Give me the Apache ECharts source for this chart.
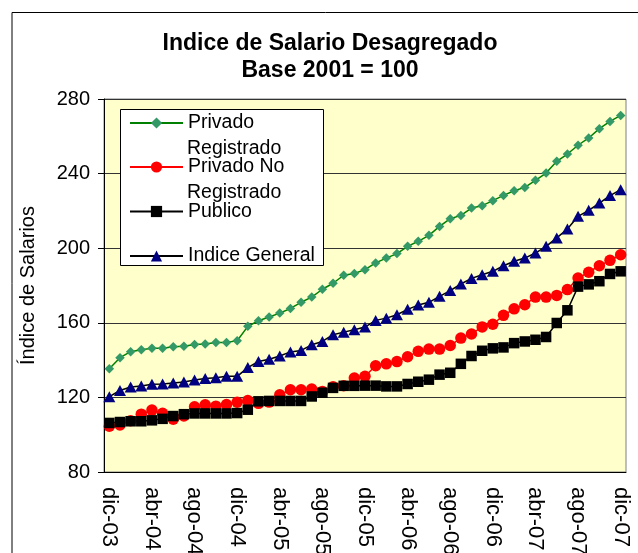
<!DOCTYPE html>
<html lang="es">
<head>
<meta charset="utf-8">
<title>Indice de Salario Desagregado</title>
<script src="https://cdn.jsdelivr.net/npm/echarts@6/dist/echarts.min.js"></script>
<style>
    html, body { margin: 0; padding: 0; background: #fff; }
    #main { width: 638px; height: 553px; }
</style>
</head>
<body>
<div id="main"></div>
<script>
    // meses dic-03 .. dic-07
    var meses = ['dic-03', 'ene-04', 'feb-04', 'mar-04', 'abr-04', 'may-04', 'jun-04', 'jul-04', 'ago-04', 'sep-04', 'oct-04', 'nov-04',
        'dic-04', 'ene-05', 'feb-05', 'mar-05', 'abr-05', 'may-05', 'jun-05', 'jul-05', 'ago-05', 'sep-05', 'oct-05', 'nov-05',
        'dic-05', 'ene-06', 'feb-06', 'mar-06', 'abr-06', 'may-06', 'jun-06', 'jul-06', 'ago-06', 'sep-06', 'oct-06', 'nov-06',
        'dic-06', 'ene-07', 'feb-07', 'mar-07', 'abr-07', 'may-07', 'jun-07', 'jul-07', 'ago-07', 'sep-07', 'oct-07', 'nov-07',
        'dic-07'];

    var privadoReg = [135.4, 141.3, 144.5, 145.6, 146.3, 146.3, 147.2, 147.4, 148.4, 148.6, 149.4, 149.5,
        150.4, 158.1, 161.1, 163.1, 165.2, 167.7, 171.0, 173.8, 178.0, 181.2, 185.5, 186.4,
        188.5, 192.1, 194.7, 197.1, 201.0, 203.7, 206.9, 211.7, 215.8, 217.6, 221.5, 222.8,
        225.5, 228.3, 230.8, 232.6, 236.4, 240.3, 246.6, 250.5, 255.2, 259.1, 264.1, 268.0,
        271.2];

    var privadoNoReg = [104.5, 105.2, 107.5, 111.0, 113.2, 111.5, 108.3, 110.0, 115.0, 116.0, 115.3, 116.2,
        117.4, 118.3, 116.8, 117.5, 121.4, 124.1, 124.1, 124.5, 123.2, 125.7, 126.3, 130.4,
        131.3, 137.0, 138.0, 139.2, 141.8, 144.7, 145.9, 145.9, 147.8, 151.8, 154.0, 157.8,
        159.2, 164.0, 167.5, 169.7, 173.8, 173.8, 174.7, 177.8, 184.0, 187.1, 190.6, 193.5,
        196.5];

    var publico = [106.3, 106.8, 107.2, 107.2, 107.7, 108.5, 110.0, 111.0, 111.4, 111.4, 111.4, 111.4,
        111.6, 113.4, 117.9, 118.1, 118.1, 118.1, 118.1, 120.5, 122.5, 125.1, 126.2, 126.2,
        126.3, 126.3, 125.9, 125.9, 127.2, 128.4, 129.5, 132.2, 133.2, 138.0, 142.2, 145.0,
        146.3, 146.8, 149.1, 150.0, 150.9, 152.4, 159.9, 166.7, 179.4, 180.6, 182.3, 186.2,
        187.6];

    var indiceGeneral = [120.4, 123.7, 125.6, 126.1, 127.0, 127.2, 127.7, 128.2, 129.3, 130.1, 130.5, 131.3,
        131.3, 136.0, 139.3, 140.5, 142.2, 144.4, 145.2, 148.2, 150.0, 153.6, 155.0, 156.3,
        157.7, 161.3, 162.5, 164.3, 167.2, 169.5, 171.0, 174.2, 177.3, 180.8, 183.8, 185.8,
        187.6, 190.6, 193.0, 194.7, 197.4, 201.0, 205.5, 210.3, 217.1, 220.3, 224.2, 228.2,
        231.4];

    var fuente = "'Liberation Sans', Arial, sans-serif";

    function leyenda(nombre, centroY) {
        return {
            data: [nombre],
            left: 129,
            top: centroY - 11,
            padding: 0,
            itemWidth: 53,
            itemHeight: 14,
            selectedMode: false,
            formatter: function (n) { return n.replace(' Registrado', ''); },
            textStyle: { fontSize: 19.5, lineHeight: 22, color: '#000', fontFamily: fuente }
        };
    }

    var myChart = echarts.init(document.getElementById('main'));
    var option = {
        animation: false,
        backgroundColor: '#fff',
        title: {
            text: 'Indice de Salario Desagregado\nBase 2001 = 100',
            left: 330,
            textAlign: 'center',
            top: 30,
            padding: 0,
            textStyle: { fontSize: 23, fontWeight: 'bold', lineHeight: 27, color: '#000', fontFamily: fuente }
        },
        legend: [
            leyenda('Privado Registrado', 123),
            leyenda('Privado No Registrado', 167),
            leyenda('Publico', 211.5),
            leyenda('Indice General', 256)
        ],
        graphic: [
            {   // marco exterior
                type: 'rect', silent: true, z: 0,
                shape: { x: 12, y: 12.5, width: 700, height: 600 },
                style: { fill: 'none', stroke: '#000', lineWidth: 1 }
            },
            {   // caja de la leyenda
                type: 'rect', silent: true, z: 3,
                shape: { x: 120.5, y: 109.5, width: 203, height: 156 },
                style: { fill: '#fff', stroke: '#000', lineWidth: 1 }
            },
            {
                type: 'text', silent: true, z: 5, x: 187, y: 148.5,
                style: { text: 'Registrado', fontSize: 19.5, fontFamily: fuente, fill: '#000', verticalAlign: 'middle' }
            },
            {
                type: 'text', silent: true, z: 5, x: 187, y: 192.5,
                style: { text: 'Registrado', fontSize: 19.5, fontFamily: fuente, fill: '#000', verticalAlign: 'middle' }
            }
        ],
        grid: {
            left: 104, right: 12, top: 99, bottom: 81,
            outerBoundsMode: 'none',
            show: true,
            backgroundColor: '#FFFFCC',
            borderColor: '#808080',
            borderWidth: 1
        },
        xAxis: {
            type: 'category',
            data: meses,
            boundaryGap: true,
            axisLine: { lineStyle: { color: '#000', width: 1 } },
            axisTick: { interval: 3, length: 5, lineStyle: { color: '#000' } },
            axisLabel: { interval: 3, rotate: -90, margin: 15, fontSize: 22, color: '#000', fontFamily: fuente },
            splitLine: { show: false }
        },
        yAxis: {
            type: 'value',
            min: 80,
            max: 280,
            interval: 40,
            name: 'Índice de Salarios',
            nameLocation: 'middle',
            nameRotate: 90,
            nameGap: 66,
            nameTextStyle: { fontSize: 20, color: '#000', fontFamily: fuente },
            axisLine: { show: true, lineStyle: { color: '#000', width: 1 } },
            axisTick: { show: true, length: 6, lineStyle: { color: '#000' } },
            axisLabel: { margin: 14, fontSize: 20, color: '#000', fontFamily: fuente },
            splitLine: { lineStyle: { color: '#333', width: 1 } }
        },
        series: [
            {
                name: 'Privado Registrado',
                type: 'line',
                data: privadoReg,
                symbol: 'diamond',
                symbolSize: 9.5,
                showAllSymbol: true,
                lineStyle: { color: '#008000', width: 1.5 },
                itemStyle: { color: '#339966' }
            },
            {
                name: 'Privado No Registrado',
                type: 'line',
                data: privadoNoReg,
                symbol: 'circle',
                symbolSize: 11.5,
                showAllSymbol: true,
                lineStyle: { color: '#FF0000', width: 1.5 },
                itemStyle: { color: '#FF0000' }
            },
            {
                name: 'Publico',
                type: 'line',
                data: publico,
                symbol: 'rect',
                symbolSize: 10.5,
                showAllSymbol: true,
                lineStyle: { color: '#000', width: 1.5 },
                itemStyle: { color: '#000' }
            },
            {
                name: 'Indice General',
                type: 'line',
                data: indiceGeneral,
                symbol: 'triangle',
                symbolSize: [12, 11],
                showAllSymbol: true,
                lineStyle: { color: '#000', width: 1.5 },
                itemStyle: { color: '#000080' }
            }
        ]
    };
    myChart.setOption(option);
</script>
</body>
</html>
